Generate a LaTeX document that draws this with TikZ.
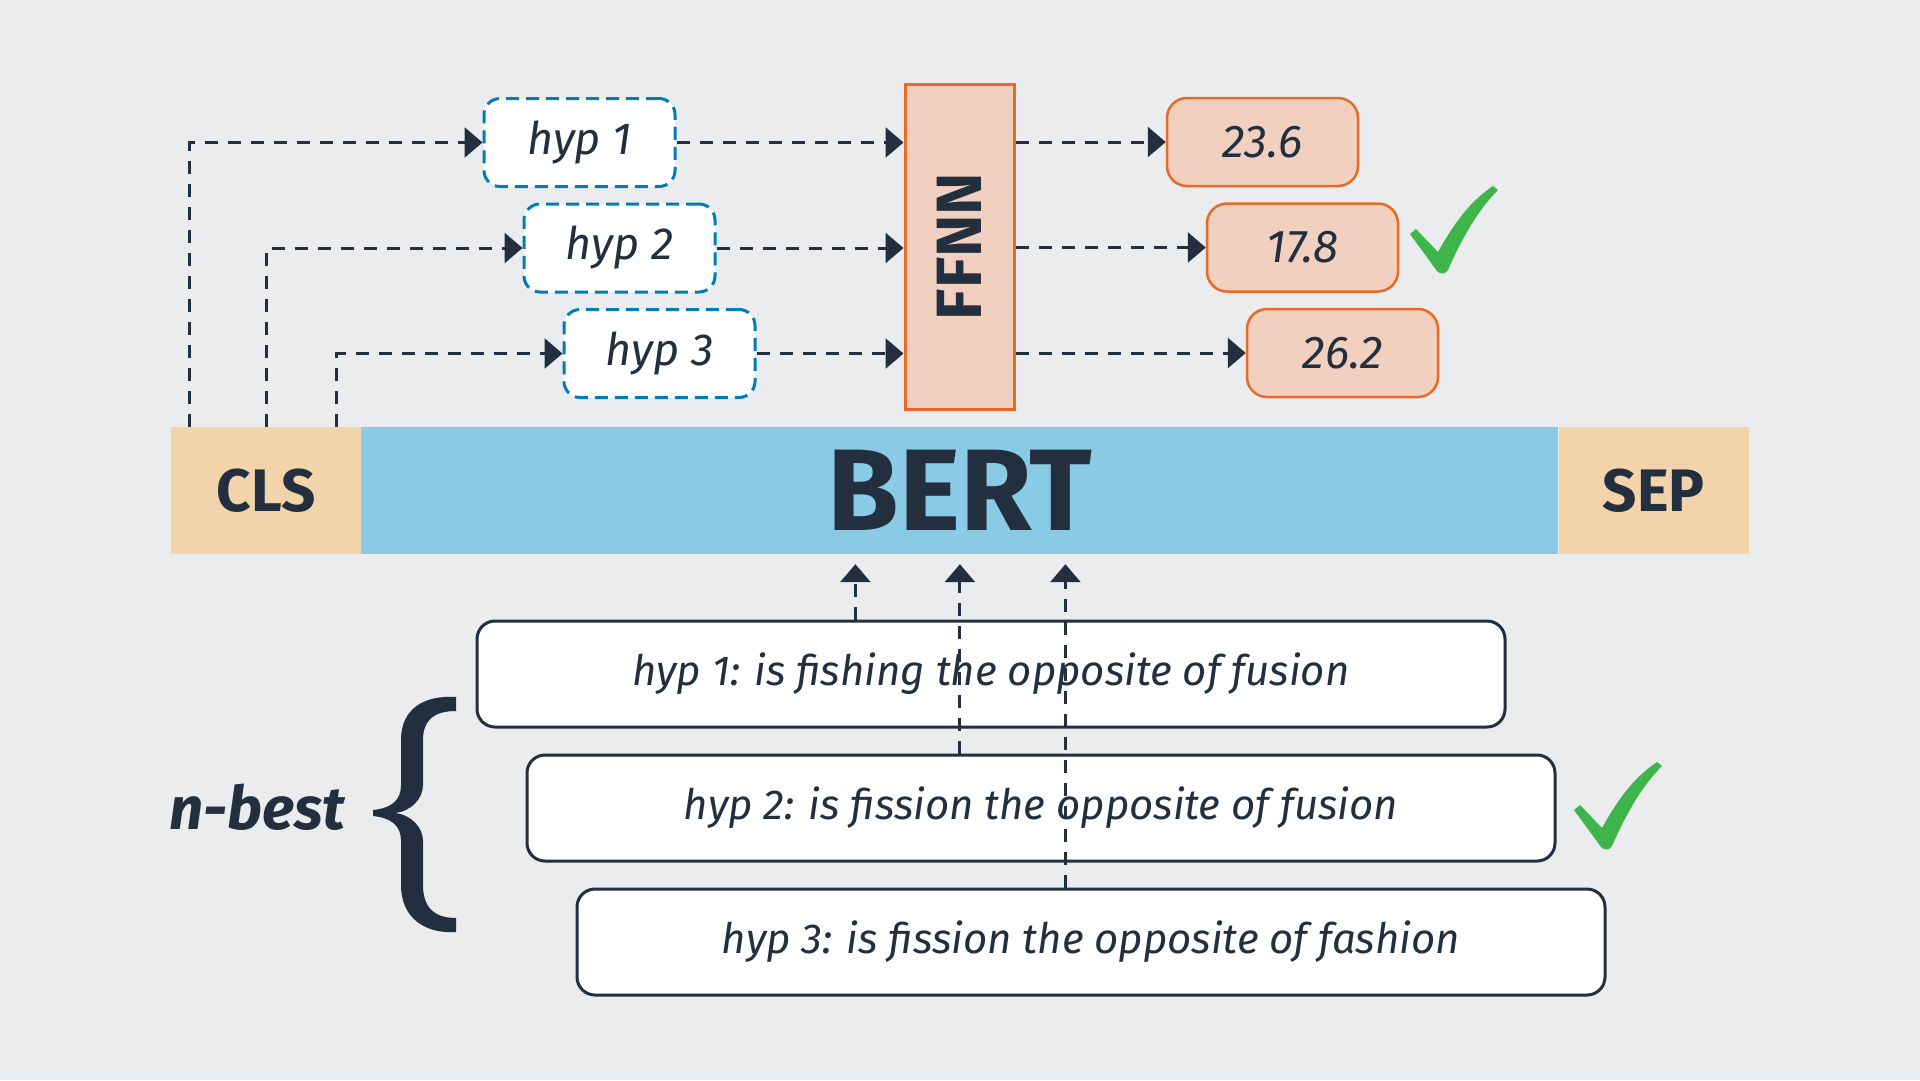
\documentclass[tikz,border=0pt]{standalone}
\usepackage{fontspec}
\setmainfont{Fira Sans}
\usepackage{graphicx}
\usetikzlibrary{arrows.meta, positioning, calc}
\usepackage{xcolor}
\definecolor{bgray}{RGB}{234,236,237}
\definecolor{inknavy}{RGB}{35,47,62}
\definecolor{bertblue}{RGB}{137,202,228}
\definecolor{tokensand}{RGB}{242,211,170}
\definecolor{scorepeach}{RGB}{242,208,192}
\definecolor{scoreorange}{RGB}{232,105,40}
\definecolor{hypblue}{RGB}{0,125,185}
\definecolor{checkgreen}{RGB}{61,181,74}
\newcommand{\txtsize}[1]{\fontsize{#1}{#1}\selectfont}

\begin{document}
\begin{tikzpicture}[
  x=1pt, y=-1pt,
  hyp/.style={draw=hypblue, fill=white, dash pattern=on 13pt off 7pt, line width=3pt,
              rounded corners=16pt, minimum width=191pt, minimum height=88pt,
              font=\txtsize{45}\itshape, text=inknavy},
  score/.style={draw=scoreorange, fill=scorepeach, line width=2.5pt, rounded corners=20pt,
                minimum width=191pt, minimum height=88pt,
                font=\txtsize{46}\itshape, text=inknavy},
  nbox/.style={draw=inknavy, fill=white, line width=3pt, rounded corners=18pt,
               minimum width=1028pt, minimum height=106pt,
               font=\txtsize{42}\itshape, text=inknavy},
  token/.style={fill=tokensand, minimum width=190pt, minimum height=127pt, inner sep=0pt,
                font=\txtsize{60}\bfseries, text=inknavy},
  arr/.style={-{Triangle[length=18pt,width=30pt]}, dash pattern=on 13pt off 10pt,
              line width=3pt, inknavy},
  okmark/.pic={
    \fill[checkgreen] (0,48) -- (6,43) -- (28,66)
      .. controls (45,35) and (62,14) .. (83,0) -- (88,4)
      .. controls (68,24) and (52,52) .. (38,84)
      .. controls (36,88) and (30,89) .. (27,85) -- cycle;
  }
]
\useasboundingbox (0,0) rectangle (1920,1080);
\fill[bgray] (0,0) rectangle (1920,1080);

% encoder row
\node[token] (cls) at (266,490.5) {CLS};
\node[fill=bertblue, minimum width=1197pt, minimum height=127pt, inner sep=0pt,
      font=\txtsize{116}\bfseries, text=inknavy, right=0pt of cls] (bert) {BERT};
\node[token, right=0pt of bert] (sep) {SEP};

% hypothesis tokens, FFNN and scores
\node[hyp] (h1) at (579.5,142.5) {hyp 1};
\node[hyp, below=14.5pt of h1, xshift=40pt] (h2) {hyp 2};
\node[hyp, below=14.5pt of h2, xshift=40pt] (h3) {hyp 3};
\node[draw=scoreorange, fill=scorepeach, line width=3pt, minimum width=109pt,
      minimum height=325pt, inner sep=0pt, font=\txtsize{64}\bfseries, text=inknavy]
      (ffnn) at (959.5,246.5) {\rotatebox{90}{FFNN}};
\node[score] (s1) at (1262.5,142) {23.6};
\node[score, below=15pt of s1, xshift=40pt] (s2) {17.8};
\node[score, below=15pt of s2, xshift=40pt] (s3) {26.2};
\pic at (1410,186) {okmark};

\draw[arr] (cls.north west) ++(19,0) |- (h1.west);
\draw[arr] (cls.north west) ++(96,0) |- (h2.west);
\draw[arr] (cls.north west) ++(166,0) |- (h3.west);
\draw[arr] (h1.east) -- (ffnn.west |- h1.east);
\draw[arr] (h2.east) -- (ffnn.west |- h2.east);
\draw[arr] (h3.east) -- (ffnn.west |- h3.east);
\draw[arr] (ffnn.east |- s1.west) -- (s1.west);
\draw[arr] (ffnn.east |- s2.west) -- (s2.west);
\draw[arr] (ffnn.east |- s3.west) -- (s3.west);

% n-best list
\node[nbox] (b1) at (991,674) {hyp 1: is fishing the opposite of fusion};
\node[nbox, below=25pt of b1, xshift=50pt] (b2) {hyp 2: is fission the opposite of fusion};
\node[nbox, below=25pt of b2, xshift=50pt] (b3) {hyp 3: is fission the opposite of fashion};
\pic at (1574,762) {okmark};
\node[font=\txtsize{60}\bfseries\itshape, text=inknavy] (nbest) at (257.5,807) {n-best};
\fill[inknavy] (456,697) .. controls (425,695) and (401,708) .. (401,740)
  -- (401,785) .. controls (401,800) and (392,808) .. (373,810) -- (373,816)
  .. controls (392,818) and (401,826) .. (401,841)
  -- (401,885) .. controls (401,918) and (425,934) .. (456,932) -- (456,918)
  .. controls (432,918) and (423,905) .. (423,885)
  -- (423,841) .. controls (423,828) and (412,815) .. (395,813)
  .. controls (412,811) and (423,798) .. (423,785)
  -- (423,740) .. controls (423,722) and (432,711) .. (456,711) -- cycle;

\coordinate (u1) at ($(bert.south)+(-104.5,10)$);
\coordinate (u2) at ($(bert.south)+(0,10)$);
\coordinate (u3) at ($(bert.south)+(105.5,10)$);
\draw[arr] (b1.north -| u1) -- (u1);
\draw[arr] (b2.north -| u2) -- (u2);
\draw[arr] (b3.north -| u3) -- (u3);
\end{tikzpicture}
\end{document}
